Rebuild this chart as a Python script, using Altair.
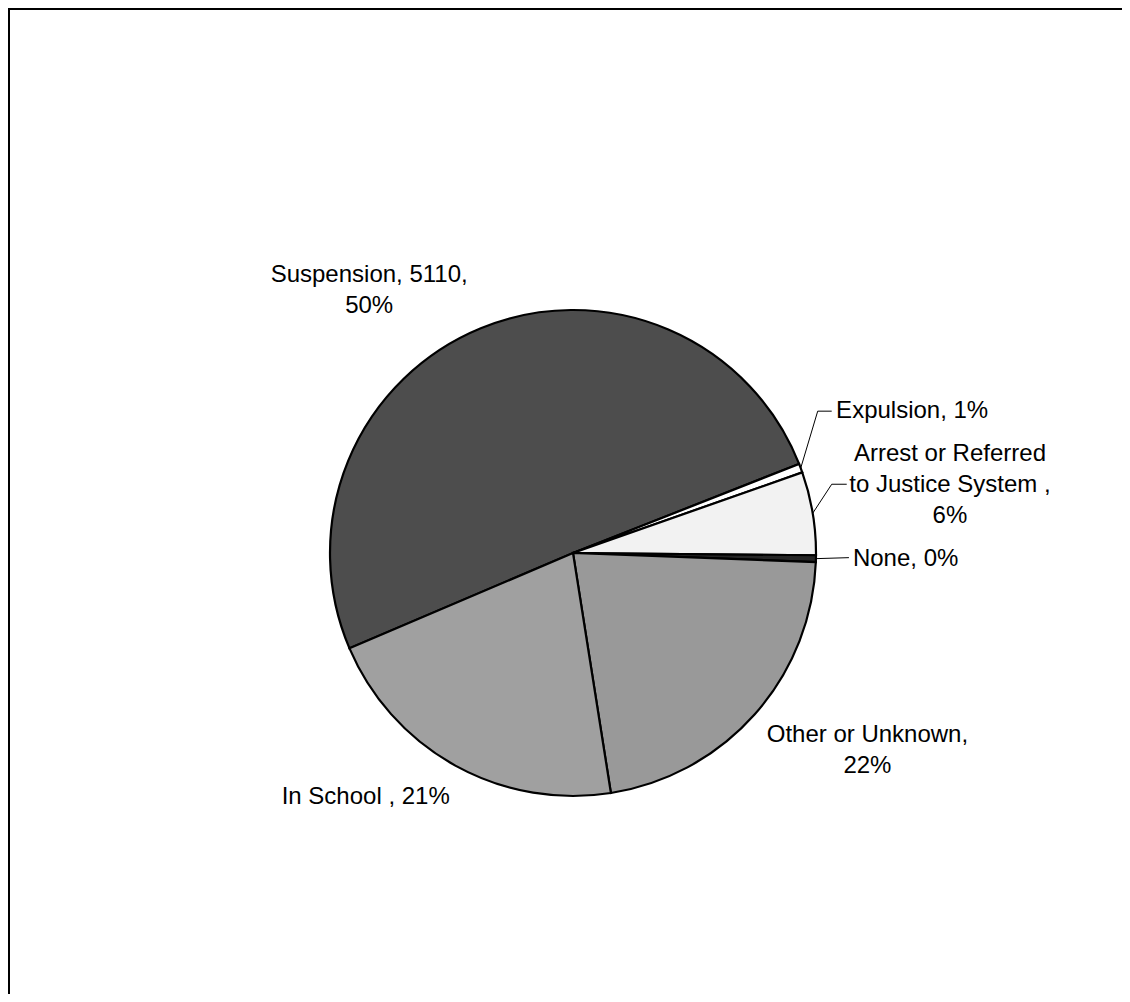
import math
import altair as alt
import pandas as pd

# ---- data ----
categories = ["Suspension", "Expulsion", "Arrest or Referred to Justice System",
              "None", "Other or Unknown", "In School"]
counts = [5110, 60, 560, 45, 2220, 2135]
label_text = ["Suspension, 5110,\n50%", "Expulsion, 1%",
              "Arrest or Referred\nto Justice System ,\n6%", "None, 0%",
              "Other or Unknown,\n22%", "In School , 21%"]
shades = ["#4d4d4d", "#ffffff", "#f2f2f2", "#262626", "#999999", "#a0a0a0"]

# ---- layout ----
W, H = 1114, 986
CX, CY = 565, 545
R = 243
START = math.radians(246.9)
TOTAL = sum(counts)
LABEL_R = 300
FONT = "Liberation Sans"

# per-label nudges (dx, dy, align) from polar anchor at mid-angle
label_nudge = {
    "Suspension": (-90, 6.6, "center"),
    "Expulsion": (-18, -30, "left"),
    "Arrest or Referred to Justice System": (81, -43, "center"),
    "None": (-20, 6, "left"),
    "Other or Unknown": (70, -10, "center"),
    "In School": (-62, -11.5, "center"),
}
# leader line bends, relative to slice edge point
leader_offsets = {
    "Expulsion": [(17, -57), (31, -57)],
    "Arrest or Referred to Justice System": [(19, -29), (34, -29)],
    "None": [(33, -1)],
}

df = pd.DataFrame({"cat": categories, "value": counts,
                   "idx": list(range(len(categories))), "label": label_text})

theta_scale = alt.Scale(domain=[0, TOTAL], range=[START, START + 2 * math.pi])
base = alt.Chart(df)

pie = base.mark_arc(radius=R, stroke="black", strokeWidth=2.2).encode(
    theta=alt.Theta("value:Q", stack=True, scale=theta_scale),
    order=alt.Order("idx:Q"),
    color=alt.Color("cat:N", scale=alt.Scale(domain=categories, range=shades), legend=None),
    x=alt.value(CX), y=alt.value(CY),
)

text_base = base.transform_window(
    cum="sum(value)", sort=[alt.SortField("idx")], frame=[None, 0]
).transform_calculate(mid="datum.cum - datum.value / 2")

text_layers = []
for cat, (dx, dy, align) in label_nudge.items():
    text_layers.append(
        text_base.transform_filter(alt.datum.cat == cat).mark_text(
            radius=LABEL_R, dx=dx, dy=dy, align=align, baseline="alphabetic",
            font=FONT, fontSize=24, lineHeight=31, lineBreak="\n", color="black",
        ).encode(
            theta=alt.Theta("mid:Q", stack=False, scale=theta_scale),
            text="label:N",
            x=alt.value(CX), y=alt.value(CY),
        )
    )

# leader lines from slice edge at mid-angle
rows = []
cum = 0
for cat, v in zip(categories, counts):
    mid = cum + v / 2
    cum += v
    if cat not in leader_offsets:
        continue
    a = START + 2 * math.pi * mid / TOTAL
    ex, ey = CX + R * math.sin(a), CY - R * math.cos(a)
    rows.append({"cat": cat, "k": 0, "px": ex, "py": ey})
    for k, (ox, oy) in enumerate(leader_offsets[cat], start=1):
        rows.append({"cat": cat, "k": k, "px": ex + ox, "py": ey + oy})
leaders = alt.Chart(pd.DataFrame(rows)).mark_line(color="black", strokeWidth=1).encode(
    x=alt.X("px:Q", scale=None, axis=None),
    y=alt.Y("py:Q", scale=None, axis=None),
    detail="cat:N",
    order="k:Q",
)

frame_df = pd.DataFrame({"a": [0]})
frame_left = alt.Chart(frame_df).mark_rule(color="black", strokeWidth=2).encode(
    x=alt.value(1), y=alt.value(0), y2=alt.value(H))
frame_top = alt.Chart(frame_df).mark_rule(color="black", strokeWidth=2).encode(
    x=alt.value(0), x2=alt.value(W), y=alt.value(1))

chart = alt.layer(frame_left, frame_top, pie, leaders, *text_layers).properties(
    width=W, height=H, autosize=alt.AutoSizeParams(type="none"), padding=0,
    background="white",
).configure_view(stroke=None)

chart.save("out.html", embed_options={"renderer": "svg", "actions": False})
